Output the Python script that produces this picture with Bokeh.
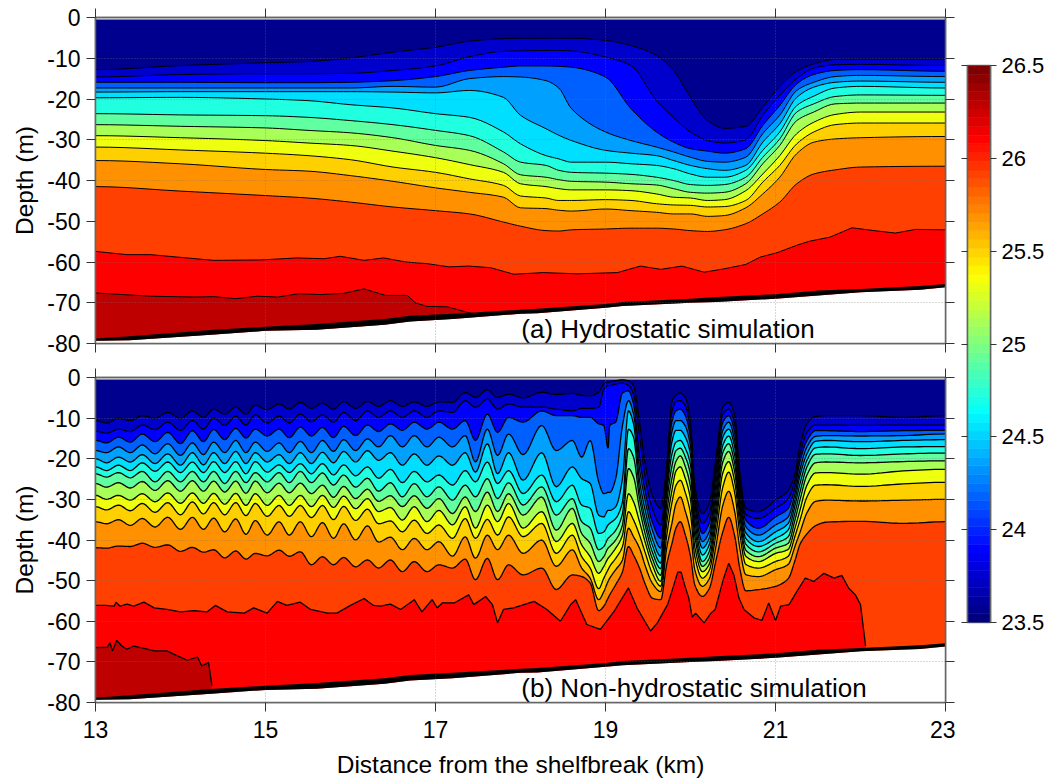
import numpy as np
from bokeh.core.properties import value
from bokeh.embed import file_html
from bokeh.layouts import column, row
from bokeh.models import FixedTicker, LinearAxis, Range1d
from bokeh.plotting import figure
from bokeh.resources import INLINE

FONT = "Liberation Sans"

x_ticks = [13, 15, 17, 19, 21, 23]
depth_ticks = [0, -10, -20, -30, -40, -50, -60, -70, -80]
bar_ticks = [23.5, 24, 24.5, 25, 25.5, 26, 26.5]
bar_tick_labels = {23.5: "23.5", 24: "24", 24.5: "24.5", 25: "25", 25.5: "25.5", 26: "26", 26.5: "26.5"}
band_colors = ["#00008F", "#0000CC", "#0000FF", "#0060FF", "#00A0FF", "#00DFFF", "#20FFDF", "#60FF9F",
               "#A8FF58", "#EFFF10", "#FFD000", "#FF9000", "#FF4000", "#FF0000", "#BF0000"]
surface_depth = 0.5

# sea bed, depth in m
bed_x = [13, 13.4, 14.4, 15, 15.6, 16.4, 16.7, 17.2, 18, 18.2, 19, 19.2, 20, 20.3, 21, 21.5, 22, 22.7, 23]
bed_top = [78.8, 78.2, 76.6, 75.9, 75.2, 74, 73.2, 72.7, 71.7, 71.5, 70.3, 69.8, 69, 68.6, 67.9, 67, 66.6, 65.9, 65.4]
bed_bot = [79.3, 79.2, 77.8, 76.9, 76.6, 75.4, 74.6, 74, 72.7, 72.6, 71.2, 70.8, 70, 69.8, 69, 68.2, 67.4, 66.8, 66.2]

# (a) hydrostatic: isotherm depths; one row per distance, isotherms 1..12
a_x = [13, 14, 15, 15.5, 16, 16.5, 17, 17.4, 17.8, 18, 18.3, 18.45, 18.6, 19, 19.3, 19.6, 19.8, 20, 20.2, 20.4,
       20.65, 20.85, 21.05, 21.25, 21.45, 21.7, 22, 23]
a_rows = [
    [12.8, 14.6, 15.9, 17.3, 18.3, 19.7, 23.6, 26.3, 29, 31.8, 35.1, 41.5],
    [11.8, 14, 15.9, 17.3, 18.2, 19.6, 23.9, 26.7, 29.5, 32.5, 35.9, 42.6],
    [11.1, 13.8, 16, 17.3, 18.2, 20, 24.1, 27.1, 30.2, 33.3, 37.3, 43.7],
    [10.8, 13.8, 16, 17.3, 18.2, 20.4, 24.5, 27.7, 30.8, 33.9, 37.7, 44.3],
    [9.9, 13.7, 15.9, 17.3, 18.2, 21.4, 25.3, 28.3, 31.4, 34.9, 38.8, 45.3],
    [8.5, 13, 15.5, 16.9, 18.3, 22.2, 26.3, 29.5, 32.8, 36.7, 40.2, 46.5],
    [7.3, 11.9, 14.5, 17.1, 18.5, 23.6, 27.7, 31.4, 34.4, 38, 41.8, 47.4],
    [5.8, 9.6, 13, 15, 17.9, 24.5, 29, 32.6, 36.1, 39.6, 42.9, 48.2],
    [5.2, 8.3, 12.2, 14.5, 19.6, 28.1, 33, 35.9, 38, 41.2, 44.1, 50.2],
    [5.1, 8.2, 11.9, 14.6, 24, 31, 35.5, 38.6, 40.8, 43.8, 46.7, 51.2],
    [5.1, 8.1, 11.9, 15.5, 27.3, 33.9, 36.3, 39.2, 41.5, 44.3, 46.9, 52.3],
    [5.1, 8.1, 12, 17.3, 28.9, 34.7, 37.5, 39.8, 42, 44.9, 47.3, 52.4],
    [5.1, 8.2, 12.2, 22.4, 30.2, 35.5, 38, 40.2, 42.3, 44.9, 47.5, 52.1],
    [5.6, 9.7, 14.6, 28.1, 32.6, 35.5, 38.2, 40.4, 42.3, 44.7, 47, 51.9],
    [6.9, 11.8, 22.4, 30.2, 33.3, 35.9, 38.5, 40.8, 42.5, 44.9, 47.4, 51.7],
    [9.3, 20.4, 28.1, 31.8, 33.9, 36.3, 39.2, 41.1, 43.3, 45.7, 47.8, 51.7],
    [13, 24.5, 30.6, 33, 35.1, 37.1, 40, 42, 44.1, 46, 48.2, 51.9],
    [19.6, 28.1, 32.2, 34.3, 36.3, 38.4, 41, 42.9, 44.3, 46.1, 48.2, 52.3],
    [25.3, 30.2, 32.8, 35.3, 37.1, 39.2, 41.2, 43.1, 44.9, 46.5, 48.8, 52.5],
    [27.2, 30.8, 33.3, 35.5, 37.5, 39.2, 41, 42.9, 44.7, 46.4, 48.6, 52.1],
    [26.7, 30, 32.2, 34.3, 36.3, 37.5, 39.2, 40.8, 42.5, 44.9, 46.7, 50.6],
    [22, 24, 26.5, 28.5, 30.6, 32.6, 34.3, 35.9, 38.4, 40.4, 43.3, 48.2],
    [16.9, 19.1, 21.6, 24, 26.1, 28.1, 29.8, 31.4, 33.9, 36.3, 39.2, 45.3],
    [13.2, 15, 16.3, 17.9, 19.6, 21.6, 23.2, 25.3, 28.5, 31, 33.4, 40.8],
    [11.4, 12.4, 14, 15.9, 17.1, 19.3, 21.2, 23.2, 25.7, 28.1, 30.6, 38.4],
    [10.3, 11.6, 13, 14.5, 15.9, 17.3, 19.4, 21.2, 23.8, 26.3, 29.8, 37.4],
    [10.2, 11.5, 12.8, 14.2, 15.6, 16.9, 19, 21, 23.2, 25.9, 29.5, 36.7],
    [10.2, 11.8, 13.2, 14.5, 15.9, 17.3, 19.1, 21, 23.2, 25.9, 29.2, 36.5],
]
a13_x = [13, 13.37, 13.65, 14.39, 14.94, 15.37, 15.69, 15.88, 16.16, 16.39, 16.65, 16.9, 17.16, 17.39, 17.65, 17.92,
         18.27, 18.67, 19.14, 19.41, 19.65, 19.9, 20.16, 20.39, 20.65, 20.82, 21.02, 21.25, 21.4, 21.64, 21.9, 22.16,
         22.41, 22.65, 23]
a13_d = [57.4, 58.2, 58.2, 59.6, 59.5, 59, 59.2, 58.6, 59.6, 59, 60, 60.4, 61.2, 61, 61.4, 63, 62.6, 62.9, 62.6, 61,
         61.8, 61, 62.5, 61.7, 60.6, 58.8, 57.7, 55.9, 54.9, 53.9, 51.6, 52.3, 52.9, 52, 52.1]
a14_x = [13, 13.65, 14.16, 14.39, 14.65, 14.9, 15.14, 15.39, 15.65, 15.92, 16.16, 16.41, 16.67, 16.76, 16.9, 17.14, 17.45]
a14_d = [67.6, 68.4, 68.6, 68.5, 69, 68.4, 68.6, 67.8, 68, 67.7, 66.6, 68.2, 68.2, 70, 70.9, 71, 72.8]

# (b) non-hydrostatic: crests and troughs of the wave train
b_left_x = [13.0, 13.13, 13.27, 13.41, 13.55, 13.7, 13.85, 14.0, 14.14, 14.27, 14.39, 14.52, 14.65, 14.77, 14.88,
            15.02, 15.16, 15.28, 15.41, 15.54, 15.67, 15.8, 15.92, 16.06, 16.2, 16.33, 16.47, 16.61, 16.75, 16.9,
            17.04, 17.2, 17.35, 17.47, 17.61, 17.73, 17.86, 18.03, 18.25, 18.42, 18.61, 18.72, 18.82, 18.92]
b1 = [10.6, 11.2, 10.0, 10.6, 9.4, 10.0, 8.6, 10.0, 8.2, 9.8, 7.8, 9.0, 7.3, 9.0, 6.8, 7.9, 6.5, 7.8, 6.1, 7.6, 6.3, 7.8,
      5.9, 7.6, 5.9, 7.1, 5.7, 7.1, 6.0, 7.1, 6.0, 6.1, 3.7, 4.9, 3.0, 4.9, 4.1, 5.0, 3.6, 4.2, 3.9, 4.4, 4.5, 3.6]
b2 = [13.2, 13.7, 12.7, 13.3, 11.7, 12.8, 11, 13, 10.6, 12.7, 10, 11.8, 9.5, 11.7, 9.2, 11.2, 9.5, 11.2, 9, 10.9, 9.2, 11,
      8.6, 10.6, 8.2, 9.8, 8.2, 9.8, 8.2, 9.8, 8.2, 8.6, 5.7, 7.3, 5.3, 7.8, 6.5, 7.3, 7.3, 7.8, 8.2, 7.6, 7.6, 7.3]
b3 = [15.5, 16.1, 14.7, 15.9, 13.9, 15.8, 13.5, 16.3, 13.1, 15.8, 12.8, 15.3, 12.5, 14.9, 12.7, 14.4, 12.7, 14.8, 12.2, 14.4,
      12.3, 14.8, 12, 14.3, 11.7, 13.3, 11.4, 13, 11, 12.7, 11, 12.7, 10.6, 15.5, 9, 13.5, 9.8, 11, 8.2, 9.4, 9.4, 9.8, 9.8, 11.4]
b4 = [18, 18.5, 17.1, 18.5, 16.6, 18.8, 16.3, 19.2, 16.1, 19, 15.9, 18.5, 15.5, 18.5, 15.9, 18.2, 16.1, 18.5, 15.7, 18.5,
      15.5, 18.2, 15.3, 18, 15.1, 17.1, 14.3, 17.1, 14.3, 17.1, 14.7, 17.1, 14.3, 20.8, 12.7, 19.2, 13.9, 19, 11.8, 18, 15.5, 19.6, 15.5, 25.7]
b5 = [20, 21, 19.6, 20.8, 19, 21.2, 18.8, 21.6, 18.5, 21.5, 18.5, 21.2, 18.2, 21.2, 18.5, 20.8, 19, 21.2, 18.5, 21.2,
      18.4, 21, 18.2, 20.8, 18, 20.4, 18.5, 21.6, 18.8, 21.6, 19.3, 21.6, 18.5, 23.3, 16.3, 23.7, 18.5, 25.3, 18.5, 26.9, 22, 24.9, 26.1, 33.9]
b6 = [22, 22.9, 21.6, 22.9, 21, 23.1, 20.8, 23.4, 20.8, 23.4, 20.7, 23.4, 20.7, 23.7, 20.7, 23.3, 21.5, 23.4, 21.2, 23.7,
      21.2, 24, 21.5, 24.2, 22, 24.8, 22.6, 25.9, 23.1, 25.7, 24, 26.5, 22.9, 25.7, 20.8, 26.1, 22.9, 28.6, 24, 30.6, 26.5, 31.4, 32.2, 38.4]
b7 = [23.7, 24.5, 23.4, 24.7, 23.1, 25.7, 23.1, 25.7, 23.1, 25.7, 23.1, 26.1, 23.1, 25.9, 23.4, 25.7, 23.4, 25.9, 23.1, 25.9,
      23.5, 26.5, 24, 27, 24.8, 28, 25.9, 29.4, 26.1, 29.4, 26.9, 30.2, 26.5, 29.4, 24.9, 29.8, 25.9, 31.4, 26.9, 33.9, 29.8, 35.5, 37.1, 42.4]
b8 = [26.1, 27, 25.9, 27.2, 25.6, 27.8, 25.4, 28, 25.4, 28, 25.5, 28.2, 25.5, 28.5, 25.5, 28.4, 26, 28.4, 26, 28.6,
      26.5, 29.5, 26.8, 29.8, 27.5, 30.5, 29.1, 31.8, 29.1, 32.2, 29.8, 33.5, 29.4, 33, 28.2, 33, 28.6, 33.9, 29.4, 37.6, 32.2, 38.4, 40.8, 45.3]
b9 = [29, 30, 29, 30.2, 28.6, 30.6, 28.4, 31, 28.4, 31, 28.5, 31.2, 28.5, 31.5, 28.6, 31.5, 29, 31.5, 29, 31.8,
      29, 32, 29.2, 32.3, 29.8, 33, 32, 35.1, 31.8, 35.5, 32.7, 36.3, 31.8, 37.1, 31.4, 35.5, 31, 37.1, 33, 40.4, 35.9, 41.2, 44.1, 48.2]
b10 = [31.8, 32.6, 31.4, 32.8, 31, 33.2, 30.8, 33.8, 30.6, 33.6, 30.8, 33.8, 30.8, 34, 31, 34.2, 31.5, 34.2, 31.5, 34.5,
       31.5, 35, 31.7, 35.2, 32.4, 36, 35.3, 38, 35.1, 38.4, 36.3, 39.6, 34.7, 39.6, 34.9, 38.8, 34.3, 39.2, 35.9, 43.3, 38.8, 44.1, 46.9, 52]
b11 = [35.5, 36, 35, 36.4, 34.7, 36.8, 34.4, 37.4, 34.4, 37.4, 34.6, 38, 34.8, 38.6, 35.2, 38.8, 35.5, 38.8, 35.5, 39.2,
       35.7, 39.6, 36, 40, 36.5, 40.5, 39.3, 42.4, 39.6, 42.4, 40.4, 44, 39.2, 44.5, 38.8, 42.4, 38.8, 43.3, 40, 46.5, 42.4, 46.9, 49.4, 54.7]
b12 = [41.9, 42, 41.5, 41.6, 40.8, 41.8, 41.2, 42.8, 41.8, 43, 42.4, 44.4, 42.7, 44.7, 43.3, 43.9, 42.5, 44, 42.9, 46.1,
       44.1, 46.1, 44.3, 46.6, 44.9, 46.9, 44.9, 47.8, 45.3, 47.8, 46.1, 46.9, 44.7, 49.8, 44.5, 49.8, 46.1, 48.6, 46.9, 52.2, 48.6, 49, 50.6, 57.4]
b_left = [b1, b2, b3, b4, b5, b6, b7, b8, b9, b10, b11, b12]

b_right_x = [18.98, 19.03, 19.05, 19.12, 19.2, 19.27, 19.33, 19.4, 19.47, 19.55, 19.65, 19.72, 19.78, 19.83, 19.88, 19.94,
             20.0, 20.05, 20.14, 20.22, 20.3, 20.38, 20.45, 20.52, 20.58, 20.65, 20.8, 21.0, 21.15, 21.23, 21.29, 21.37,
             21.47, 21.6, 22, 22.5, 23]
b_right_rows = [
    [1.6, 2.9, 11.8, 28.6, 34.3, 38, 41.6, 44.1, 46.5, 49.4, 52.7, 56.3],
    [1.2, 2.0, 17.4, 28.3, 32.7, 36.3, 39.6, 42, 44.5, 47.3, 50.2, 54.3],
    [1.1, 2.0, 11.8, 28.3, 32.7, 35.9, 39.2, 41.6, 44, 46.5, 49.4, 53.5],
    [0.8, 1.6, 11, 24.9, 31.8, 34.7, 37.6, 40, 42, 44.5, 47.3, 51],
    [0.6, 1.4, 3.8, 11.8, 24.9, 30.6, 33.5, 36.3, 38.8, 41.6, 44.9, 47.8],
    [0.8, 1.9, 3.3, 5.7, 8.2, 12.7, 17.5, 22.4, 28.6, 33, 37.1, 41.6],
    [2, 4.1, 6.5, 9, 11.4, 14.7, 19.6, 24.5, 30.6, 35.1, 39.2, 43.7],
    [11, 14.3, 19.6, 22.4, 25.3, 27.7, 29.8, 32.2, 35.5, 38.8, 42, 46.9],
    [21.6, 24.9, 28.4, 30.6, 33, 35.1, 36.7, 38.8, 40.8, 43.3, 46.5, 51],
    [29, 32.2, 35.5, 37.5, 39.6, 41.2, 42.9, 44.5, 46.1, 48.2, 50.6, 54.3],
    [32.2, 36.3, 39.6, 42, 44, 45.7, 47.1, 48.7, 50.2, 51.4, 52.7, 54.7],
    [21.6, 23, 24.5, 26, 27.5, 29, 31, 33.5, 36, 39, 42, 46],
    [6.1, 8.5, 11, 13.5, 16, 19, 22, 25, 28, 31, 36, 41],
    [4.3, 5.9, 8.2, 10.6, 13, 15.9, 18, 20.6, 23, 26.5, 31, 37],
    [3.8, 5.7, 7.8, 10.6, 13, 15.5, 17.4, 19.3, 22, 25.3, 29.4, 35.5],
    [4.9, 7, 9.4, 12, 14.7, 17.5, 19.6, 22, 24.9, 28.4, 33, 38.8],
    [11, 13, 15, 17, 19, 21.5, 24, 27, 30, 33.5, 38, 44],
    [26.5, 28, 29.5, 31, 33, 35, 37, 39, 41.6, 44, 47.3, 51],
    [33.5, 35.9, 38.4, 40.4, 42, 43.7, 45.3, 46.5, 47.8, 49.4, 51.4, 53.9],
    [31, 33.5, 35.9, 38, 39.6, 41.2, 42.9, 44.5, 46, 47.5, 49.6, 52],
    [20, 22, 24, 26, 28, 30, 32, 34, 36, 38.5, 41.5, 45],
    [7.3, 9, 11, 13, 14.7, 16.7, 18.5, 20.8, 23.5, 27, 31.5, 38],
    [6.1, 7.8, 9.4, 11, 12.7, 14.4, 16.3, 18.2, 20.7, 23.3, 28, 34.4],
    [9.4, 11.4, 13.5, 15.5, 17.1, 19.2, 21.2, 23.3, 25.7, 28.4, 33, 39],
    [23.3, 24.9, 26.5, 28, 29.5, 31, 32.5, 34, 36, 38.5, 42, 47],
    [32.2, 33.7, 35.1, 36.7, 38.2, 39.6, 41, 42.5, 44, 46, 48.5, 52.5],
    [33, 34.7, 37.1, 38.8, 40.4, 41.6, 42.9, 44.1, 45.3, 46.9, 49, 52.2],
    [30.2, 32.2, 34.3, 36.3, 38, 39.6, 40.8, 42, 43.3, 45.3, 47.3, 51.4],
    [27.8, 29.8, 32.2, 34.3, 35.9, 37.5, 39.2, 40.8, 42.3, 44, 46, 49.5],
    [23.7, 25.3, 27, 28.5, 30, 31.5, 33.2, 35, 37, 39, 41.5, 45],
    [16.7, 18.8, 20.5, 22.5, 24, 26, 28, 30, 32.5, 35, 38, 41],
    [11.4, 13.5, 15.5, 17.1, 18.8, 20.4, 22, 24, 26.5, 29.4, 33.3, 38.5],
    [9.6, 11.7, 13.1, 14.5, 15.7, 17.3, 18.9, 21, 23.5, 26.5, 30.5, 36.5],
    [9.4, 11.7, 13.1, 14.3, 15.5, 17.1, 18.8, 20.8, 23.4, 26.4, 30.2, 35.6],
    [9.4, 11.8, 13.3, 14.4, 15.8, 17.5, 19.2, 21, 23.8, 26.8, 30.4, 35.4],
    [9.8, 11.7, 13.1, 14.3, 15.5, 17.1, 18.8, 20.7, 23, 26.2, 30.2, 35.9],
    [9.4, 11.7, 13, 13.9, 15.3, 17, 18.6, 20.5, 22.6, 25.8, 30, 35.5],
]
b13_x = [13, 13.12, 13.22, 13.24, 13.29, 13.37, 13.45, 13.57, 13.69, 13.84, 14.0, 14.16, 14.31, 14.41, 14.55, 14.75, 14.86,
         15.02, 15.14, 15.25, 15.41, 15.53, 15.73, 15.84, 16.0, 16.16, 16.27, 16.35, 16.47, 16.59, 16.75, 16.84, 16.96,
         17.02, 17.08, 17.22, 17.39, 17.45, 17.59, 17.67, 17.73, 17.8, 17.92, 18.16, 18.31, 18.47, 18.59, 18.65, 18.78,
         18.94, 19.1, 19.27, 19.37, 19.53, 19.61, 19.73, 19.78, 19.85, 19.89, 19.93, 19.98, 20.02, 20.06, 20.16, 20.24,
         20.29, 20.39, 20.45, 20.51, 20.57, 20.63, 20.75, 20.84, 20.92, 21, 21.06, 21.16, 21.25, 21.35, 21.45, 21.57,
         21.69, 21.78, 21.86, 21.94, 22, 22.06]
b13_d = [56.1, 56.1, 56.3, 55.3, 56.3, 55.8, 56.3, 55.3, 56.7, 57.1, 57.7, 57.4, 57.7, 56.1, 57.7, 58, 56.7, 58, 55.1, 56.1,
         55.3, 57.1, 58, 58, 56.1, 54.4, 56.1, 56.3, 55.8, 57.1, 54.7, 57.7, 54.7, 56.7, 55.5, 55.5, 53.5, 55.9, 53.9, 55.9,
         60.4, 57.1, 56.7, 55.1, 57.1, 60, 55.9, 54.7, 60.8, 62, 57.6, 51.8, 56.7, 62.4, 60.4, 55.9, 52.7, 47.9, 47.9, 51,
         54.3, 59, 58, 60.4, 58, 57.1, 49.4, 45.7, 48.6, 54.3, 57.1, 59.2, 59.8, 55.5, 59.8, 56.3, 55.9, 52.7, 49.4, 50.2,
         48.2, 49.4, 48.7, 51.8, 53.5, 55.9, 66.1]
b14_x = [13, 13.14, 13.17, 13.2, 13.25, 13.31, 13.37, 13.45, 13.57, 13.69, 13.84, 13.92, 14.08, 14.2, 14.25, 14.33, 14.37]
b14_d = [66.5, 66.4, 65.3, 67.3, 64.7, 66.1, 66.9, 66.1, 66.7, 67.3, 67.3, 68.1, 69.6, 68.8, 71, 70.2, 75.9]


def pchip(xk, yk, per_knot=8):
    """Smooth monotone curve through the read points, for drawing only."""
    xk, yk = np.asarray(xk, float), np.asarray(yk, float)
    h = np.diff(xk)
    s = np.diff(yk) / h
    m = np.zeros_like(yk)
    for i in range(1, len(yk) - 1):
        if s[i - 1] * s[i] > 0:
            w1, w2 = 2 * h[i] + h[i - 1], h[i] + 2 * h[i - 1]
            m[i] = (w1 + w2) / (w1 / s[i - 1] + w2 / s[i])
    xo, yo = [], []
    for i in range(len(h)):
        t = np.linspace(0, 1, per_knot, endpoint=False)
        xo.extend(xk[i] + t * h[i])
        yo.extend((2*t**3 - 3*t**2 + 1) * yk[i] + (t**3 - 2*t**2 + t) * h[i] * m[i]
                  + (-2*t**3 + 3*t**2) * yk[i + 1] + (t**3 - t**2) * h[i] * m[i + 1])
    xo.append(xk[-1]); yo.append(yk[-1])
    return xo, yo


def jet(f):
    r = np.clip(min(4 * f - 1.5, -4 * f + 4.5), 0, 1)
    g = np.clip(min(4 * f - 0.5, -4 * f + 3.5), 0, 1)
    b = np.clip(min(4 * f + 0.5, -4 * f + 2.5), 0, 1)
    return "#%02x%02x%02x" % (int(r * 255), int(g * 255), int(b * 255))


def style_axis(ax, ticks, labels=None):
    ax.ticker = FixedTicker(ticks=ticks)
    ax.axis_line_color = "#666666"
    ax.axis_line_width = 1.5
    ax.major_tick_line_color = "#333333"
    ax.major_tick_in = 0
    ax.major_tick_out = 9
    ax.minor_tick_line_color = None
    ax.major_label_text_font = FONT
    ax.major_label_text_color = "#000000"
    ax.major_label_text_font_size = "23px"
    if labels:
        ax.major_label_overrides = labels
    else:
        ax.major_label_overrides = {t: "" for t in ticks}
        ax.major_label_standoff = 0


def style_title(ax, text, size, standoff):
    ax.axis_label = text
    ax.axis_label_text_font = FONT
    ax.axis_label_text_font_size = size
    ax.axis_label_text_font_style = "normal"
    ax.axis_label_text_color = "#000000"
    ax.axis_label_standoff = standoff


def panel(height, top, bottom, show_x):
    p = figure(width=955, height=height, x_range=Range1d(13, 23), y_range=Range1d(-80, 0),
               output_backend="svg", toolbar_location=None, min_border_left=95, min_border_right=10,
               min_border_top=top, min_border_bottom=bottom, background_fill_color="white",
               outline_line_color="#666666", outline_line_width=1.5)
    style_axis(p.yaxis[0], depth_ticks, {t: str(t) for t in depth_ticks})
    style_axis(p.xaxis[0], x_ticks, {t: str(t) for t in x_ticks} if show_x else None)
    p.yaxis[0].major_label_standoff = 6
    style_title(p.yaxis[0], "Depth (m)", "24.5px", 6)
    if show_x:
        p.xaxis[0].major_label_standoff = 9
        style_title(p.xaxis[0], "Distance from the shelfbreak (km)", "24.5px", 10)
    right = LinearAxis()
    above = LinearAxis()
    style_axis(right, depth_ticks)
    style_axis(above, x_ticks)
    p.add_layout(right, "right")
    p.add_layout(above, "above")
    for g, ticks in ((p.xgrid[0], x_ticks), (p.ygrid[0], depth_ticks)):
        g.ticker = FixedTicker(ticks=ticks)
        g.level = "overlay"
        g.grid_line_color = "#777777"
        g.grid_line_alpha = 0.55
        g.grid_line_dash = "1 2"
        g.grid_line_width = 1
    p.quad(left=13, right=23, top=-surface_depth, bottom=-80, fill_color=band_colors[0], line_color=None)
    return p


def draw_isotherms(p, curves, width):
    for color, (x, d) in zip(band_colors[1:], curves):
        x, d = list(x), [-v for v in d]
        p.patch(x + [x[-1], 13], d + [-80, -80], fill_color=color, line_color=None)
    for x, d in curves:
        p.line(list(x), [-v for v in d], line_color="black", line_width=width)


def draw_bed_and_title(p, title, tx, ty):
    bx = list(bed_x)
    p.patch(bx + [23, 13], [-v for v in bed_bot] + [-80, -80], fill_color="white", line_color=None)
    p.patch(bx + bx[::-1], [-v for v in bed_top] + [-v for v in bed_bot[::-1]], fill_color="black", line_color=None)
    p.text(x=[tx], y=[ty], text=[title], text_font=value(FONT), text_font_size="26px",
           text_color="black", text_baseline="middle", text_align="left")


pa = panel(360, 17, 17, False)
a_curves = [pchip(a_x, [r[k] for r in a_rows], 6) for k in range(12)] + [(a13_x, a13_d), (a14_x, a14_d)]
draw_isotherms(pa, a_curves, 1)
draw_bed_and_title(pa, "(a) Hydrostatic simulation", 18.01, -76.4)

pb = panel(420, 17, 77, True)
b_curves = []
for k in range(12):
    xs = list(b_left_x) + list(b_right_x)
    ds = list(b_left[k]) + [r[k] for r in b_right_rows]
    b_curves.append(pchip(xs, ds))
b_curves += [(b13_x, b13_d), (b14_x, b14_d)]
draw_isotherms(pb, b_curves, 1.3)
draw_bed_and_title(pb, "(b) Non-hydrostatic simulation", 18.01, -76.4)

cb = figure(width=92, height=780, x_range=Range1d(0, 1), y_range=Range1d(23.5, 26.5), output_backend="svg",
            toolbar_location=None, min_border_left=12, min_border_right=56, min_border_top=65, min_border_bottom=158,
            outline_line_color="#777777", outline_line_width=1.5)
n_bar = 64
edges = np.linspace(23.5, 26.5, n_bar + 1)
bar_colors = [jet(i / (n_bar - 1)) for i in range(n_bar)]
cb.quad(left=0, right=1, bottom=edges[:-1], top=edges[1:], line_color=bar_colors, line_width=0.6, fill_color=bar_colors)
cb.xaxis.visible = False
cb.xgrid.visible = False
cb.ygrid.visible = False
style_axis(cb.yaxis[0], bar_ticks)
cb.yaxis[0].major_tick_out = 6
rax = LinearAxis()
style_axis(rax, bar_ticks, bar_tick_labels)
rax.major_label_text_font_size = "22px"
rax.major_tick_out = 6
rax.major_label_standoff = 5
cb.add_layout(rax, "right")

page = row(column(pa, pb, spacing=0), cb, spacing=0, margin=0)
open("out.html", "w").write(file_html(page, INLINE))
